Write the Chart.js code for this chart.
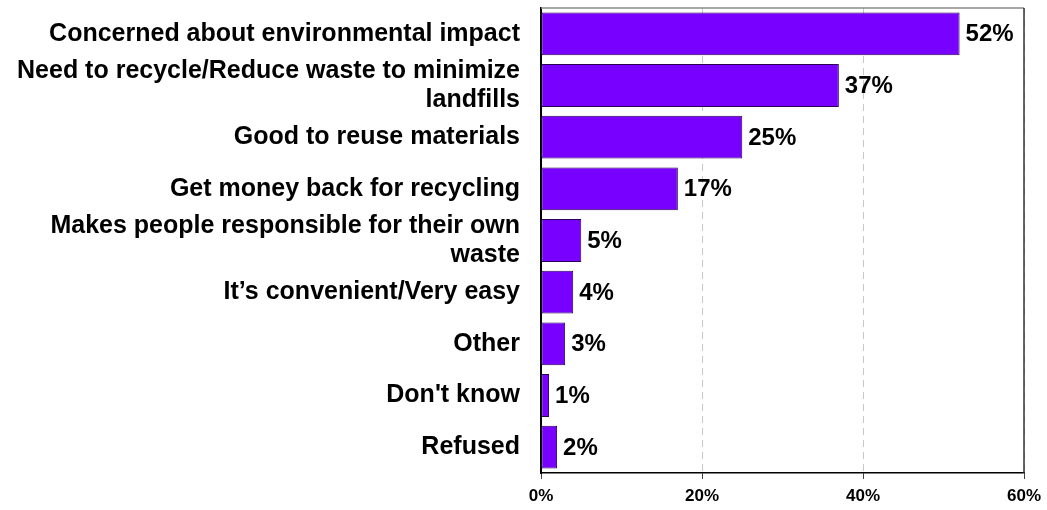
<!DOCTYPE html>
<html>
<head>
<meta charset="utf-8">
<script src="https://cdn.jsdelivr.net/npm/chart.js@4/dist/chart.umd.min.js"></script>
<style>
  html, body { margin: 0; padding: 0; background: #fff; }
  #wrap { width: 1047px; height: 510px; }
</style>
</head>
<body>
<div id="wrap"><canvas id="reasons"></canvas></div>
<script>
// Reasons given (percent of respondents)
const categories = [
    'Concerned about environmental impact',
    ['Need to recycle/Reduce waste to minimize', 'landfills'],
    'Good to reuse materials',
    'Get money back for recycling',
    ['Makes people responsible for their own', 'waste'],
    'It\u2019s convenient/Very easy',
    'Other',
    "Don't know",
    'Refused'
];
const percents = [52, 37, 25, 17, 5, 4, 3, 1, 2];
const xTicks = [0, 20, 40, 60];

const FONT = '"Liberation Sans", Arial, sans-serif';

// writes the value next to the end of each bar
const valueLabels = {
    id: 'valueLabels',
    afterDatasetsDraw(chart) {
        const ctx = chart.ctx;
        const meta = chart.getDatasetMeta(0);
        ctx.save();
        ctx.font = 'bold 24px ' + FONT;
        ctx.fillStyle = '#000';
        ctx.textAlign = 'left';
        ctx.textBaseline = 'middle';
        meta.data.forEach((bar, i) => {
            ctx.fillText(percents[i] + '%', bar.x + 6, bar.y + 1);
        });
        ctx.restore();
    }
};

// frame on top and right of the plot
const plotFrame = {
    id: 'plotFrame',
    beforeDatasetsDraw(chart) {
        const { ctx, chartArea: a } = chart;
        ctx.save();
        ctx.lineWidth = 1.5;
        ctx.strokeStyle = '#8a8a8a';
        ctx.beginPath();
        ctx.moveTo(a.left, a.top);
        ctx.lineTo(a.right, a.top);
        ctx.stroke();
        ctx.strokeStyle = '#333';
        ctx.beginPath();
        ctx.moveTo(a.right, a.top);
        ctx.lineTo(a.right, a.bottom);
        ctx.stroke();
        ctx.restore();
    }
};

const chart = new Chart(document.getElementById('reasons'), {
    type: 'bar',
    data: {
        labels: categories,
        datasets: [{
            data: percents,
            backgroundColor: '#7700ff',
            borderColor: '#2a0055',
            borderWidth: 1,
            borderSkipped: false,
            barPercentage: 0.83,
            categoryPercentage: 1
        }]
    },
    options: {
        indexAxis: 'y',
        responsive: true,
        maintainAspectRatio: false,
        animation: false,
        layout: { padding: { left: 0, right: 23, top: 8, bottom: 0 } },
        plugins: {
            legend: { display: false },
            tooltip: { enabled: false }
        },
        scales: {
            x: {
                min: 0,
                max: 60,
                afterBuildTicks: (scale) => {
                    scale.ticks = xTicks.map(v => ({ value: v }));
                },
                afterFit: (scale) => {
                    scale.height = 37;
                    scale.paddingLeft = 0;
                    scale.paddingRight = 0;
                },
                border: { color: '#000', width: 1.5, dash: [7, 5] },
                grid: {
                    color: '#c8c8c8',
                    lineWidth: 1,
                    tickBorderDash: [1, 0],
                    tickColor: '#000',
                    tickLength: 6
                },
                ticks: {
                    color: '#000',
                    padding: 7,
                    font: { family: FONT, size: 17, weight: 'bold' },
                    callback: (v) => v + '%'
                }
            },
            y: {
                afterFit: (scale) => {
                    scale.width = 541;
                    scale.paddingTop = 0;
                    scale.paddingBottom = 0;
                },
                border: { color: '#000', width: 2 },
                grid: { display: false, drawTicks: false },
                ticks: {
                    color: '#000',
                    padding: 21,
                    autoSkip: false,
                    font: { family: FONT, size: 25, weight: 'bold', lineHeight: 1.16 }
                }
            }
        }
    },
    plugins: [plotFrame, valueLabels]
});
</script>
</body>
</html>
